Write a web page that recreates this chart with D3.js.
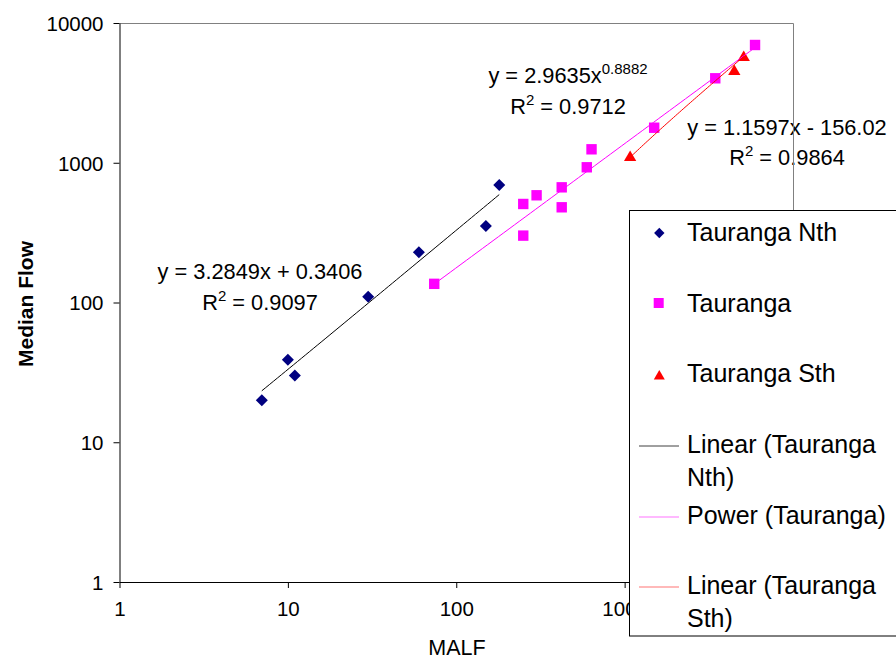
<!DOCTYPE html>
<html>
<head>
<meta charset="utf-8">
<script src="https://cdn.jsdelivr.net/npm/d3@7"></script>
<style>
  html, body { margin: 0; padding: 0; background: #fff; }
  svg { display: block; font-family: "Liberation Sans", Arial, sans-serif; }
</style>
</head>
<body>
<svg id="chart" width="896" height="660"></svg>
<script>
// ---- Data ----
const tickValues = [1, 10, 100, 1000, 10000];

const nthMALF = [7, 10, 11, 30, 60, 150, 180];
const nthFlow = [20, 39, 30, 110, 229, 353, 693];

const tgaMALF = [74, 250, 250, 300, 423, 423, 596, 636, 1498, 3454, 5950];
const tgaFlow = [136, 301, 507, 585, 667, 480, 928, 1248, 1781, 4021, 6961];

const sthMALF = [1078, 4481, 5097];
const sthFlow = [1117, 4610, 5807];

// trendline coefficients shown on the chart
const nthLinear = [3.2849, 0.3406];   // slope, intercept
const tgaPower  = [2.9635, 0.8882];   // coefficient, exponent
const sthLinear = [1.1597, -156.02];  // slope, intercept

const legendLabels = [
  ["Tauranga Nth"],
  ["Tauranga"],
  ["Tauranga Sth"],
  ["Linear (Tauranga", "Nth)"],
  ["Power (Tauranga)"],
  ["Linear (Tauranga", "Sth)"]
];

(function () {
// ---- Layout ----
const svg = d3.select("#chart");
const pL = 119.5, pR = 793, pT = 23, pB = 582;
const FONT = '"Liberation Sans", Arial, sans-serif';

const x = d3.scaleLog().domain([1, 10000]).range([pL, pR]);
const y = d3.scaleLog().domain([1, 10000]).range([pB, pT]);

// plot area border (top & right)
svg.append("path")
  .attr("d", `M${pL},${pT + 0.5}H${pR + 0.5}V${pB}`)
  .attr("fill", "none").attr("stroke", "#808080").attr("stroke-width", 1);

// axes
const fmt = d3.format("d");
const yAxis = svg.append("g").attr("transform", `translate(${pL},0)`)
  .call(d3.axisLeft(y).tickValues(tickValues).tickFormat(fmt).tickSize(6).tickSizeOuter(0).tickPadding(10));
const xAxis = svg.append("g").attr("transform", `translate(0,${pB})`)
  .call(d3.axisBottom(x).tickValues(tickValues).tickFormat(fmt).tickSize(6).tickSizeOuter(0).tickPadding(13));
[xAxis, yAxis].forEach(g => {
  g.select(".domain").attr("stroke", "#000");
  g.selectAll(".tick line").attr("stroke", "#000");
  g.selectAll(".tick text").attr("font-family", FONT).attr("font-size", 20.5).attr("fill", "#000");
});
yAxis.selectAll(".tick text").attr("dy", "0.36em");

// axis titles
svg.append("text").attr("x", 457).attr("y", 655).attr("text-anchor", "middle")
  .attr("font-size", 21.5).attr("fill", "#000").text("MALF");
svg.append("text").attr("transform", "translate(33,304) rotate(-90)").attr("text-anchor", "middle")
  .attr("font-size", 21).attr("font-weight", "bold").attr("fill", "#000").text("Median Flow");

// markers
function drawDiamond(g, cx, cy, s) {
  g.append("path").attr("d", `M${cx},${cy - s}L${cx + s},${cy}L${cx},${cy + s}L${cx - s},${cy}Z`).attr("fill", "#000080");
}
function drawSquare(g, cx, cy, s) {
  g.append("rect").attr("x", cx - s).attr("y", cy - s).attr("width", 2 * s).attr("height", 2 * s).attr("fill", "#FF00FF");
}
function drawTriangle(g, cx, cy, s) {
  g.append("path").attr("d", `M${cx},${cy - s}L${cx + s * 1.1},${cy + s * 0.9}L${cx - s * 1.1},${cy + s * 0.9}Z`).attr("fill", "#FF0000");
}

const marks = svg.append("g");
nthMALF.forEach((v, i) => drawDiamond(marks, x(v), y(nthFlow[i]), 6));
tgaMALF.forEach((v, i) => drawSquare(marks, x(v), y(tgaFlow[i]), 5.2));
sthMALF.forEach((v, i) => drawTriangle(marks, x(v), y(sthFlow[i]), 5.6));

// trendlines
function trend(xs, f, color) {
  const lo = d3.min(xs), hi = d3.max(xs);
  const n = 60;
  const pts = d3.range(n + 1).map(i => Math.pow(10, Math.log10(lo) + (Math.log10(hi) - Math.log10(lo)) * i / n));
  svg.append("path")
    .attr("d", d3.line().x(d => x(d)).y(d => y(f(d)))(pts))
    .attr("fill", "none").attr("stroke", color).attr("stroke-width", 1);
}
trend(nthMALF, v => nthLinear[0] * v + nthLinear[1], "#000");
trend(tgaMALF, v => tgaPower[0] * Math.pow(v, tgaPower[1]), "#FF00FF");
trend(sthMALF, v => sthLinear[0] * v + sthLinear[1], "#FF0000");

// equation labels
function eqLabel(cx, y1, y2, parts, r2) {
  const t = svg.append("text").attr("x", cx).attr("y", y1).attr("text-anchor", "middle")
    .attr("font-size", 21.8).attr("fill", "#000");
  t.append("tspan").text(parts[0]);
  if (parts[1]) t.append("tspan").attr("font-size", 15).attr("dy", -9).text(parts[1]);
  const t2 = svg.append("text").attr("x", cx).attr("y", y2).attr("text-anchor", "middle")
    .attr("font-size", 21.8).attr("fill", "#000");
  t2.append("tspan").text("R");
  t2.append("tspan").attr("font-size", 15).attr("dy", -9).text("2");
  t2.append("tspan").attr("dy", 9).text(" = " + r2);
}
eqLabel(260, 279, 310, ["y = " + nthLinear[0] + "x + " + nthLinear[1]], "0.9097");
eqLabel(568, 83, 114, ["y = " + tgaPower[0] + "x", tgaPower[1]], "0.9712");
eqLabel(787, 135, 165, ["y = " + sthLinear[0] + "x - " + Math.abs(sthLinear[1])], "0.9864");

// right border drawn over the labels (as in reference)
svg.append("line").attr("x1", pR + 0.5).attr("x2", pR + 0.5).attr("y1", 100).attr("y2", 210)
  .attr("stroke", "#808080");

// legend
const lg = svg.append("g");
lg.append("rect").attr("x", 629.5).attr("y", 210.5).attr("width", 300).attr("height", 425.5)
  .attr("fill", "#fff").attr("stroke", "#000").attr("stroke-width", 1);
const baselines = [[241], [312], [382], [453, 485.5], [524], [594, 626.5]];
const lineYs = [null, null, null, 446, 517, 587];
legendLabels.forEach((lines, i) => {
  const t = lg.append("text").attr("font-size", 25).attr("fill", "#000");
  lines.forEach((s, j) => t.append("tspan").attr("x", 687).attr("y", baselines[i][j]).text(s));
});
drawDiamond(lg, 659.3, 233, 5.2);
drawSquare(lg, 658.7, 303, 5);
drawTriangle(lg, 659.3, 375, 5);
const lineColors = ["#000", "#FF00FF", "#FF0000"];
[3, 4, 5].forEach((k, j) => {
  lg.append("line").attr("x1", 639).attr("x2", 679).attr("y1", lineYs[k]).attr("y2", lineYs[k])
    .attr("stroke", lineColors[j]).attr("stroke-width", 1).attr("stroke-opacity", j === 0 ? 0.75 : 0.55);
});
})();
</script>
</body>
</html>
